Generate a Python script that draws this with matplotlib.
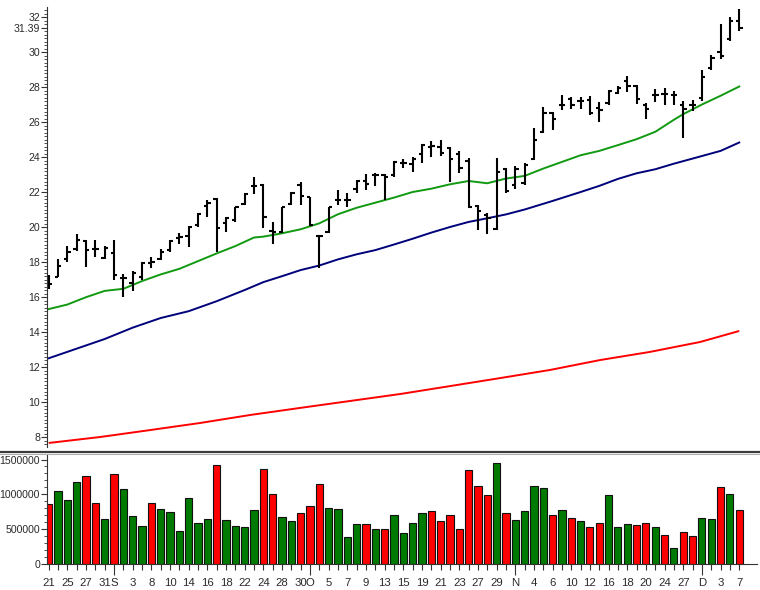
import matplotlib
matplotlib.use("Agg")
import matplotlib.pyplot as plt
from matplotlib.lines import Line2D
import matplotlib.transforms as mtransforms
import numpy as np

# ---------------- data ----------------
opens = [16.70, 17.12, 18.20, 18.74, 19.20, 18.74, 18.25, 18.50, 17.06, 16.78,
         17.16, 17.95, 18.20, 18.68, 19.40, 19.49, 20.11, 21.20, 21.58, 20.21,
         20.40, 21.31, 22.34, 22.40, 19.80, 19.73, 21.31, 22.40, 21.70, 19.49,
         19.73, 21.54, 21.54, 22.15, 22.65, 22.97, 22.97, 22.95, 23.64, 23.60,
         24.17, 24.60, 24.60, 24.50, 24.17, 23.80, 21.20, 20.69, 19.90, 23.30,
         22.40, 22.50, 23.87, 25.45, 26.50, 27.00, 27.30, 27.20, 27.25, 26.78,
         27.07, 27.64, 28.34, 28.08, 27.00, 27.53, 27.58, 27.55, 26.97, 27.00,
         27.35, 29.07, 29.98, 30.72, 31.80]
highs = [17.25, 18.15, 18.90, 19.58, 19.25, 19.25, 18.93, 19.25, 17.30, 17.48,
         17.98, 18.30, 18.74, 19.26, 19.66, 20.06, 20.78, 21.54, 21.68, 20.59,
         21.16, 21.92, 22.88, 22.45, 20.30, 21.16, 22.02, 22.60, 21.73, 19.54,
         21.16, 22.11, 21.92, 22.69, 23.03, 23.10, 23.03, 23.75, 23.87, 23.98,
         24.72, 24.90, 24.97, 24.55, 24.36, 23.92, 21.26, 20.78, 23.92, 23.40,
         23.48, 23.64, 25.64, 26.87, 26.59, 27.54, 27.45, 27.45, 27.48, 27.16,
         27.83, 28.06, 28.65, 28.10, 27.06, 27.89, 27.92, 27.77, 27.20, 27.26,
         28.97, 29.83, 31.60, 32.00, 32.45]
lows = [16.45, 17.12, 18.00, 18.62, 17.73, 18.30, 18.17, 16.95, 16.01, 16.34,
        17.00, 17.67, 18.11, 18.59, 19.05, 18.88, 20.02, 20.59, 18.59, 19.73,
        20.30, 21.26, 21.88, 19.92, 19.03, 19.64, 21.26, 21.26, 20.06, 17.64,
        19.68, 21.26, 21.16, 21.92, 22.11, 22.34, 21.54, 22.88, 23.35, 23.16,
        23.64, 24.02, 24.06, 22.59, 23.07, 21.07, 19.83, 19.60, 19.83, 21.95,
        22.15, 22.40, 23.83, 25.39, 25.54, 26.68, 26.72, 26.72, 26.40, 26.02,
        26.97, 27.60, 27.70, 27.01, 26.17, 27.16, 26.97, 26.97, 25.10, 26.63,
        27.20, 28.97, 29.60, 30.65, 31.20]
closes = [16.75, 17.80, 18.60, 19.25, 18.68, 18.74, 18.80, 17.25, 17.06, 17.35,
          17.92, 18.00, 18.58, 19.22, 19.45, 19.98, 20.74, 21.35, 19.92, 20.50,
          21.12, 21.88, 22.34, 20.59, 19.70, 21.12, 21.96, 21.79, 20.11, 19.49,
          21.12, 21.54, 21.54, 22.65, 22.45, 22.97, 22.85, 23.72, 23.64, 23.90,
          24.68, 24.62, 24.25, 23.87, 23.35, 21.12, 20.93, 20.50, 23.16, 22.05,
          23.30, 23.54, 24.97, 26.53, 26.20, 27.00, 26.97, 27.20, 26.53, 26.70,
          27.79, 27.92, 28.08, 27.31, 26.74, 27.55, 27.58, 27.55, 26.74, 27.00,
          28.60, 29.64, 29.75, 31.75, 31.39]
volumes = [858, 1041, 916, 1172, 1258, 873, 641, 1292, 1075, 685,
           540, 873, 786, 747, 472, 940, 588, 641, 1422, 627,
           540, 526, 767, 1364, 998, 665, 608, 723, 825, 1148,
           800, 786, 376, 569, 569, 492, 501, 699, 434, 583,
           733, 757, 608, 699, 492, 1350, 1119, 984, 1451, 723,
           632, 757, 1119, 1090, 699, 776, 651, 608, 526, 583,
           984, 526, 569, 550, 583, 526, 410, 217, 458, 391,
           656, 641, 1099, 998, 767]  # thousands
vol_down = "rgggrrgrgggrggggggrggggrrggrrrggggrgrggggrrrrrrrgrggggrgrgrrgggrrgrgrrggrgr"

# moving averages (bar index, value)
ma_green_idx = [0, 2, 4, 6, 8, 10, 12, 14, 16, 18, 20, 22, 23, 25, 27, 29, 31, 33, 35, 37,
                39, 41, 43, 45, 47, 49, 51, 53, 55, 57, 59, 61, 63, 65, 67, 68, 70, 72, 74]
ma_green = [15.31, 15.57, 15.99, 16.35, 16.47, 16.91, 17.29, 17.61, 18.05, 18.49, 18.91,
            19.40, 19.45, 19.64, 19.87, 20.21, 20.73, 21.10, 21.39, 21.68, 22.00, 22.19,
            22.44, 22.63, 22.50, 22.77, 22.92, 23.34, 23.72, 24.10, 24.35, 24.68, 25.02,
            25.44, 26.13, 26.45, 27.00, 27.50, 28.03]
ma_blue_idx = [0, 3, 6, 9, 12, 15, 18, 21, 23, 25, 27, 29, 31, 33, 35, 37, 39, 41, 43, 45,
               47, 49, 51, 54, 57, 59, 61, 63, 65, 67, 69, 72, 74]
ma_blue = [12.50, 13.05, 13.60, 14.25, 14.80, 15.19, 15.76, 16.40, 16.85, 17.19, 17.54,
           17.80, 18.15, 18.44, 18.68, 19.00, 19.33, 19.68, 20.00, 20.29, 20.50, 20.72,
           21.00, 21.49, 22.00, 22.35, 22.75, 23.07, 23.30, 23.62, 23.91, 24.35, 24.83]
ma_red_idx = [0, 5.5, 10.9, 16.2, 21.6, 26.9, 32.3, 37.7, 43, 48.4, 53.7, 59.1, 64.4, 69.8, 74]
ma_red = [7.66, 8.00, 8.40, 8.80, 9.26, 9.66, 10.06, 10.46, 10.91, 11.37, 11.83, 12.40,
          12.86, 13.43, 14.06]

date_labels = ["21", "25", "27", "31", "S", "3", "8", "10", "14", "16", "18", "22", "24",
               "28", "30", "O", "5", "7", "9", "13", "15", "19", "21", "23", "27", "29",
               "N", "4", "6", "10", "12", "16", "18", "20", "24", "27", "D", "3", "7"]
date_idx = [0, 2, 4, 6, 7, 9, 11, 13, 15, 17, 19, 21, 23, 25, 27, 28, 30, 32, 34, 36, 38,
            40, 42, 44, 46, 48, 50, 52, 54, 56, 58, 60, 62, 64, 66, 68, 70, 72, 74]
month_idx = [7, 28, 50, 70]
price_ticks = [8, 10, 12, 14, 16, 18, 20, 22, 24, 26, 28, 30, 32]
last_price = 31.39
vol_ticks = [0, 500000, 1000000, 1500000]

# ---------------- figure ----------------
W, H = 760, 590
plt.rcParams['font.family'] = ['Liberation Sans', 'DejaVu Sans']
fig = plt.figure(figsize=(W / 100, H / 100), dpi=100)
txt_col = '#2a2a2a'
fs = 7.6

def px_rect(x0, y_top, x1, y_bot):
    return [x0 / W, 1 - y_bot / H, (x1 - x0) / W, (y_bot - y_top) / H]

n = len(closes)
x = np.arange(n)
xmin, xmax = -0.18, 75.9

# price panel
ax = fig.add_axes(px_rect(47, 6.5, 757, 447))
ax.set_xlim(xmin, xmax)
ax.set_ylim(7.43, 32.6)
for s in ['top', 'right', 'bottom']:
    ax.spines[s].set_visible(False)
ax.spines['left'].set_color('#333333')
ax.spines['left'].set_linewidth(0.8)

ax.plot(ma_red_idx, ma_red, color='#ff0000', lw=1.4, solid_capstyle='butt')
ax.plot(ma_blue_idx, ma_blue, color='#00007a', lw=1.4)
ax.plot(ma_green_idx, ma_green, color='#119911', lw=1.4)

tl = 0.36
ax.vlines(x, lows, highs, color='black', lw=1.5, capstyle='butt')
ax.hlines(opens, x - tl, x, color='black', lw=1.5)
ax.hlines(closes, x, x + tl, color='black', lw=1.5)

ax.set_xticks([])
ax.set_yticks(price_ticks + [last_price])
ax.set_yticklabels([str(t) for t in price_ticks] + [f"{last_price:.2f}"])
ax.set_yticks(np.arange(7.6, 32.6, 0.2), minor=True)
ax.tick_params(axis='y', which='major', length=4, width=0.8, pad=1, labelsize=fs,
               labelcolor=txt_col, color='#333333')
ax.tick_params(axis='y', which='minor', length=2, width=0.6, color='#333333')

# separator line
fig.add_artist(Line2D([0, 1], [1 - 452 / H, 1 - 452 / H], transform=fig.transFigure,
                      color='#3c3c3c', lw=1.6))
fig.add_artist(Line2D([0, 1], [1 - 454 / H, 1 - 454 / H], transform=fig.transFigure,
                      color='#b0b0b0', lw=0.8))

# volume panel
ax2 = fig.add_axes(px_rect(47, 455, 757, 563.5))
ax2.set_xlim(xmin, xmax)
ax2.set_ylim(0, 1565000)
for s in ['top', 'right']:
    ax2.spines[s].set_visible(False)
for s in ['left', 'bottom']:
    ax2.spines[s].set_color('#333333')
    ax2.spines[s].set_linewidth(0.8)
ax2.spines['bottom'].set_bounds(xmin, xmax)

vcols = ['#ff0000' if c == 'r' else '#007a00' for c in vol_down]
ax2.bar(x, np.array(volumes) * 1000, width=0.76, color=vcols, edgecolor='#111111',
        linewidth=0.8, zorder=2)

ax2.set_yticks(vol_ticks)
ax2.set_yticklabels([str(v) for v in vol_ticks])
ax2.set_yticks(np.arange(0, 1565000, 100000), minor=True)
ax2.tick_params(axis='y', which='major', length=4, width=0.8, pad=1, labelsize=fs,
                labelcolor=txt_col, color='#333333')
ax2.tick_params(axis='y', which='minor', length=2, width=0.6, color='#333333')

ax2.set_xticks(month_idx)
ax2.set_xticklabels([])
ax2.set_xticks(x, minor=True)
ax2.tick_params(axis='x', which='major', length=8, width=0.8, color='#333333')
ax2.tick_params(axis='x', which='minor', length=4, width=0.8, color='#333333')

trans = mtransforms.blended_transform_factory(ax2.transData, fig.transFigure)
for lab, i in zip(date_labels, date_idx):
    ax2.text(i, 1 - 582.5 / H, lab, transform=trans, ha='center', va='center',
             fontsize=fs + 0.6, color=txt_col)

fig.savefig('out.png', dpi=100)
